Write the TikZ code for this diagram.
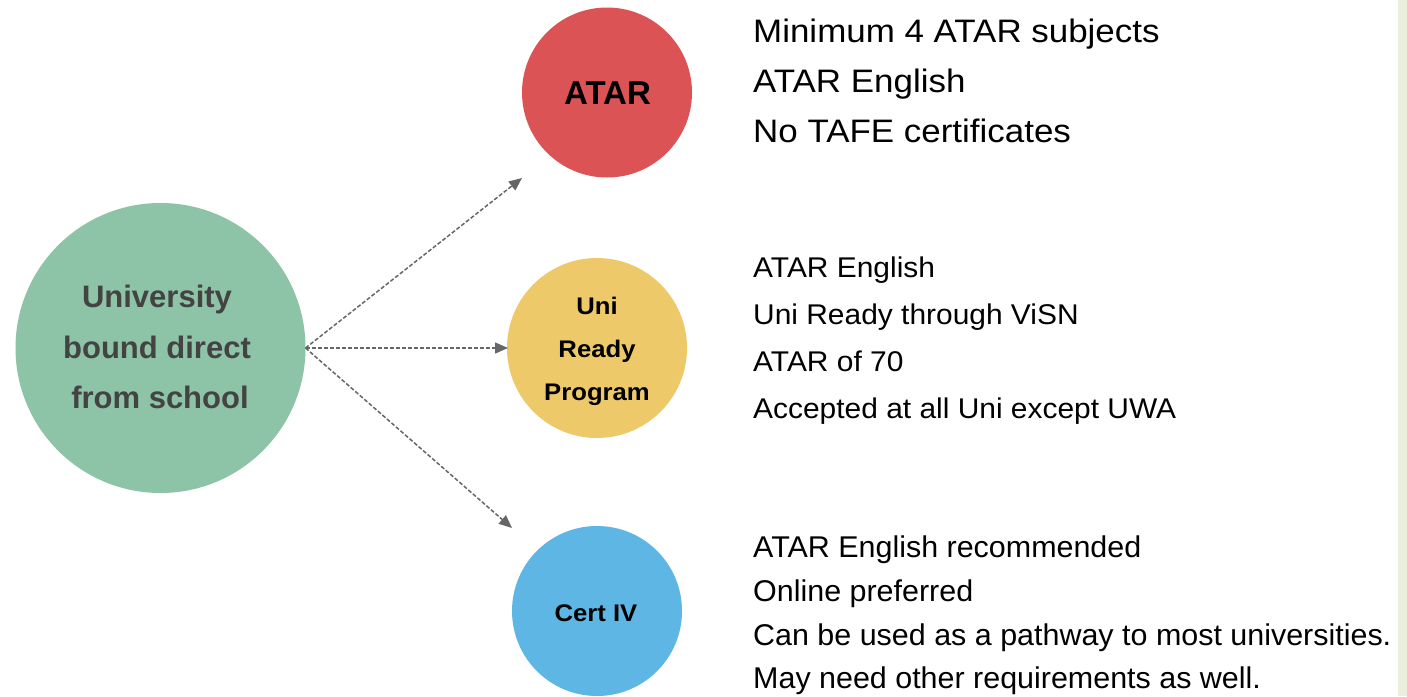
\documentclass[tikz,border=0pt]{standalone}
\usepackage{fontspec}
\setmainfont{Liberation Sans}
\usetikzlibrary{arrows.meta}
\definecolor{cgreen}{HTML}{8DC3A7}
\definecolor{cred}{HTML}{DC5356}
\definecolor{cyellow}{HTML}{EDC96A}
\definecolor{cblue}{HTML}{5DB6E4}
\definecolor{cstrip}{HTML}{E9EFDA}
\definecolor{cdark}{HTML}{434343}
\definecolor{carrow}{HTML}{666666}
\newcommand{\wtop}[1]{\scalebox{1.075}[1]{#1}}
\newcommand{\wmid}[1]{\scalebox{1.05}[1]{#1}}
\newcommand{\wbot}[1]{\scalebox{1.015}[1]{#1}}
\newcommand{\wcir}[1]{\scalebox{1.07}[1]{#1}}
\tikzset{
  blob/.style={circle,inner sep=0pt,outer sep=0pt,draw=none},
  clbl/.style={anchor=base,inner sep=0pt,font=\bfseries\fontsize{24}{30}\selectfont},
  ulbl/.style={anchor=base,inner sep=0pt,text=cdark,font=\bfseries\fontsize{31}{40}\selectfont},
  reqtop/.style={anchor=base west,inner sep=0pt,font=\fontsize{32.5}{40}\selectfont},
  reqmid/.style={anchor=base west,inner sep=0pt,font=\fontsize{28.5}{36}\selectfont},
  reqbot/.style={anchor=base west,inner sep=0pt,font=\fontsize{30}{36}\selectfont},
  link/.style={draw=carrow,line width=1.5pt,dash pattern=on 4pt off 2pt,
    -{Triangle[length=13pt,width=11pt,fill=carrow]}}
}
\begin{document}
\begin{tikzpicture}[x=1pt,y=-1pt]
\useasboundingbox (0,0) rectangle (1407,696);
\fill[white] (0,0) rectangle (1407,696);
\fill[cstrip] (1398,0) rectangle (1407,696);
% circles
\node[blob,fill=cgreen,minimum size=290pt] (uni) at (160.5,348) {};
\node[blob,fill=cred,minimum size=170pt] (atar) at (607,92.5) {};
\node[blob,fill=cyellow,minimum size=180pt] (ready) at (597,348) {};
\node[blob,fill=cblue,minimum size=170pt] (cert) at (597,611) {};
% circle labels
\node[ulbl] (u1) at (157,307) {University};
\node[ulbl] (u2) at (157,358) {bound direct};
\node[ulbl] (u3) at (160,408) {from school};
\node[anchor=base,inner sep=0pt,font=\bfseries\fontsize{33}{40}\selectfont] (atarlbl) at (607.5,104) {ATAR};
\node[clbl] (r1) at (597,314) {\wcir{Uni}};
\node[clbl] (r2) at (597,357) {\wcir{Ready}};
\node[clbl] (r3) at (597,400) {\wcir{Program}};
\node[clbl] (certlbl) at (596,621.7) {\wcir{Cert IV}};
% arrows
\coordinate (e1) at (522,178);
\coordinate (e2) at (508,348);
\coordinate (e3) at (512,528);
\coordinate (s) at (uni.east);
\draw[link] (s) -- (e1);
\draw[link] (s) -- (e2);
\draw[link] (s) -- (e3);
% requirement texts
\node[reqtop] (t1) at (753,42) {\wtop{Minimum 4 ATAR subjects}};
\node[reqtop] (t2) at (753,92) {\wtop{ATAR English}};
\node[reqtop] (t3) at (753,142) {\wtop{No TAFE certificates}};
\node[reqmid] (m1) at (753,277.5) {\wmid{ATAR English}};
\node[reqmid] (m2) at (753,324.5) {\wmid{Uni Ready through ViSN}};
\node[reqmid] (m3) at (753,371.5) {\wmid{ATAR of 70}};
\node[reqmid] (m4) at (753,418) {\wmid{Accepted at all Uni except UWA}};
\node[reqbot] (b1) at (753,557) {\wbot{ATAR English recommended}};
\node[reqbot] (b2) at (753,601) {\wbot{Online preferred}};
\node[reqbot] (b3) at (753,645) {\wbot{Can be used as a pathway to most universities.}};
\node[reqbot] (b4) at (753,688.5) {\wbot{May need other requirements as well.}};
\end{tikzpicture}
\end{document}
